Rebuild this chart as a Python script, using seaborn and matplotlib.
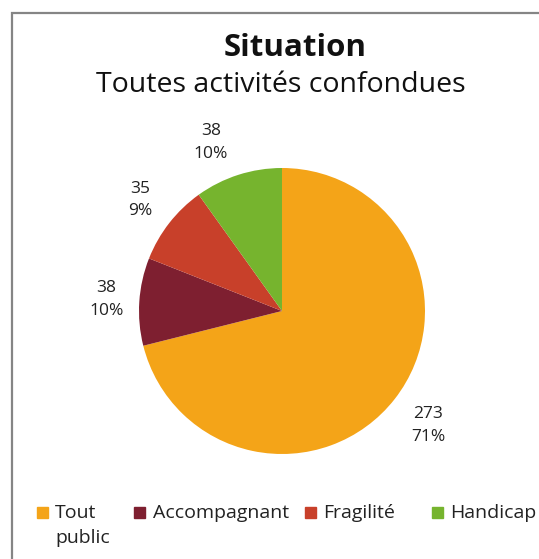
import numpy as np
import matplotlib.pyplot as plt
import matplotlib.patches as mpatches
import seaborn as sns

categories = ["Tout public", "Accompagnant", "Fragilité", "Handicap"]
legend_labels = ["Tout\npublic", "Accompagnant", "Fragilité", "Handicap"]
values = [273, 38, 35, 38]
colors = ["#F4A418", "#7E1F30", "#C8402A", "#76B42E"]

sns.set_theme(style="white")
plt.rcParams['font.family'] = ['Open Sans', 'DejaVu Sans']

W, H = 539, 559
fig = plt.figure(figsize=(W / 100, H / 100), dpi=100)

# frame around chart (cropped on right / bottom)
fig.patches.append(mpatches.Rectangle((12.5 / W, -0.1), 1.2, (H - 13.5) / H + 0.1,
                                      transform=fig.transFigure, fill=False,
                                      edgecolor="#858585", linewidth=1.6))

# pie placement: center (282, 311) px, radius 143 px
r = 143
cx, cy = 282, H - 311
side = 2.5 * r
ax = fig.add_axes([(cx - side / 2) / W, (cy - side / 2) / H, side / W, side / H])

total = sum(values)
def fmt(p):
    v = int(round(p * total / 100))
    return f"{v}\n{p:.0f}%"

wedges, _, autotexts = ax.pie(values, colors=colors, startangle=90, counterclock=False,
                              autopct=fmt, pctdistance=1.27,
                              wedgeprops=dict(linewidth=0),
                              textprops=dict(fontsize=12.5, color="#222222", linespacing=1.55))
# excel-like label placement: radial distance + small angular nudge
dist = [1.30, 1.23, 1.26, 1.28]
nudge = [0, 0, 0, 5]
for t, w, d, n in zip(autotexts, wedges, dist, nudge):
    ang = np.deg2rad((w.theta1 + w.theta2) / 2 + n)
    t.set_position((d * np.cos(ang), d * np.sin(ang)))
    t.set_ha("center")
ax.set_aspect("equal")

fig.text(295 / W, 1 - 56 / H, "Situation", ha="center", va="baseline",
         fontsize=22.5, fontweight="bold", color="#111111")
fig.text(281 / W, 1 - 92 / H, "Toutes activités confondues", ha="center", va="baseline",
         fontsize=20.5, color="#111111")

# legend (baseline of a multi-line text is its last line)
sq_x = [37, 134, 305, 432]
tx_x = [55, 153, 323, 450]
for lbl, c, sx, tx in zip(legend_labels, colors, sq_x, tx_x):
    fig.patches.append(mpatches.Rectangle((sx / W, 1 - 518 / H), 11 / W, 11 / H,
                                          transform=fig.transFigure, color=c))
    yb = 518 + 25 * lbl.count("\n")
    fig.text(tx / W, 1 - yb / H, lbl, ha="left", va="baseline", fontsize=14,
             color="#222222", linespacing=1.5)

fig.savefig("out.png", dpi=100)
